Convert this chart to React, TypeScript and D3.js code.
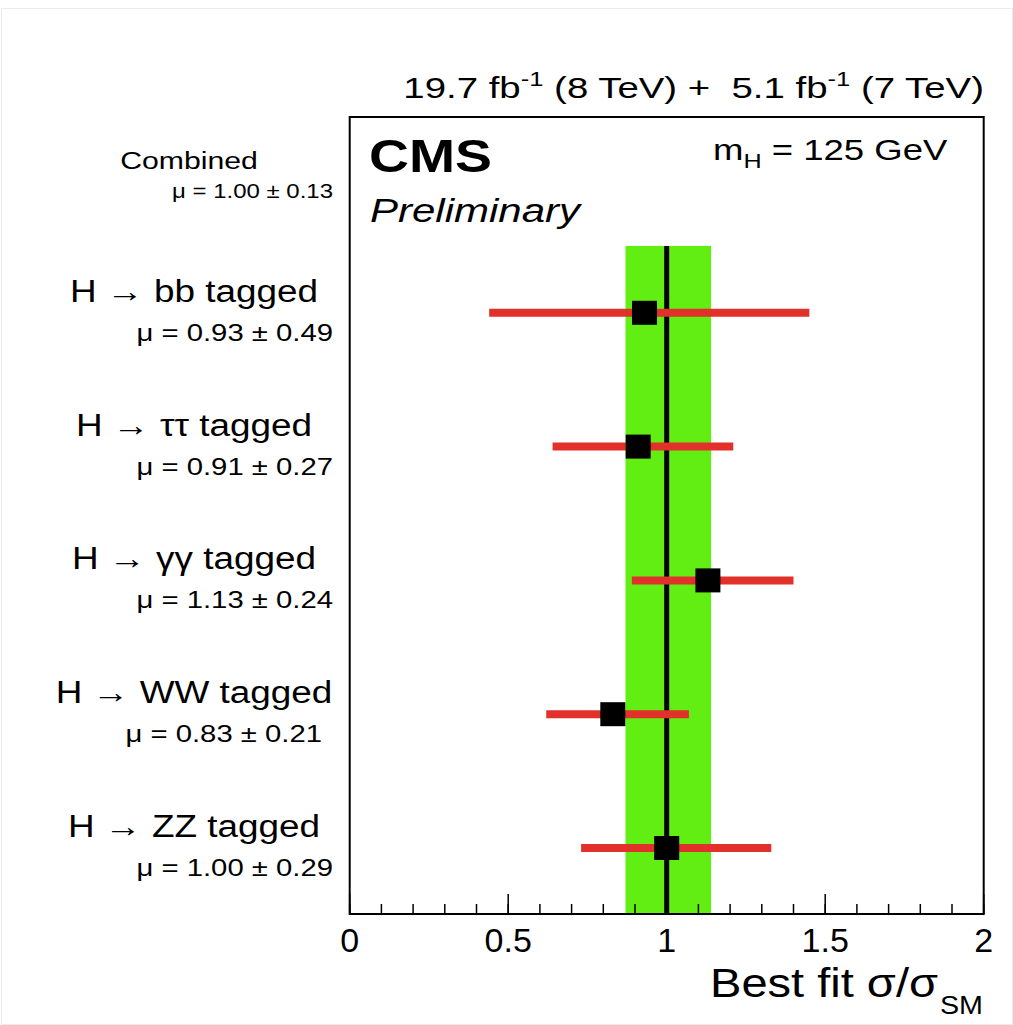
import React from "react";
import * as d3 from "d3";

// ---- data ----
const categories = [
  "Combined",
  "H \u2192 bb tagged",
  "H \u2192 \u03c4\u03c4 tagged",
  "H \u2192 \u03b3\u03b3 tagged",
  "H \u2192 WW tagged",
  "H \u2192 ZZ tagged",
];
const muValues = [1.0, 0.93, 0.91, 1.13, 0.83, 1.0];
const muErrors = [0.13, 0.49, 0.27, 0.24, 0.21, 0.29];
const lowerBounds = [0.87, 0.44, 0.64, 0.89, 0.62, 0.73];
const upperBounds = [1.14, 1.45, 1.21, 1.4, 1.07, 1.33];
const xTicks = [0, 0.5, 1, 1.5, 2];
const xMinorTicks = d3.range(0, 2.0001, 0.1);

const W = 1013;
const H = 1025;
const FONT = "'Liberation Sans', Arial, Helvetica, sans-serif";

function SText(props: {
  x: number;
  y: number;
  s: number;
  size: number;
  anchor?: string;
  children: React.ReactNode;
}) {
  return (
    <g transform={`translate(${props.x},${props.y}) scale(${props.s},1)`}>
      <text x={0} y={0} fontSize={props.size} textAnchor={props.anchor || "start"} fill="#000">
        {props.children}
      </text>
    </g>
  );
}

export default function App() {
  const x = d3.scaleLinear().domain([0, 2]).range([349.7, 983.7]);
  const y = d3.scaleLinear().domain([0, 5]).range([179, 848]);
  const frameTop = 117;
  const frameBottom = 914;
  const bandTop = y(0.5);
  const fmt = d3.format(".2f");
  const red = "#e2302a";
  const green = "#62ee12";

  return (
    <svg
      width={W}
      height={H}
      style={{ position: "absolute", left: 0, top: 0, background: "#fff" }}
      fontFamily={FONT}
    >
      <rect x={0} y={0} width={W} height={H} fill="#fff" />
      <rect x={1.5} y={8.5} width={1011} height={1016} fill="none" stroke="#ebebeb" strokeWidth={1} />

      {/* combined band */}
      <rect
        x={x(lowerBounds[0])}
        y={bandTop}
        width={x(upperBounds[0]) - x(lowerBounds[0])}
        height={frameBottom - bandTop}
        fill={green}
      />
      <line x1={x(muValues[0])} x2={x(muValues[0])} y1={bandTop} y2={frameBottom} stroke="#000" strokeWidth={5} />

      {/* error bars and points */}
      {categories.map((c, i) =>
        i === 0 ? null : (
          <g key={c}>
            <line
              x1={x(lowerBounds[i])}
              x2={x(upperBounds[i])}
              y1={y(i)}
              y2={y(i)}
              stroke={red}
              strokeWidth={8}
            />
            <rect x={x(muValues[i]) - 12.5} y={y(i) - 12} width={25} height={24} fill="#000" />
          </g>
        )
      )}

      {/* frame */}
      <rect
        x={x(0)}
        y={frameTop}
        width={x(2) - x(0)}
        height={frameBottom - frameTop}
        fill="none"
        stroke="#000"
        strokeWidth={2}
      />

      {/* ticks */}
      {xMinorTicks.map((t, i) => (
        <line key={"m" + i} x1={x(t)} x2={x(t)} y1={frameBottom} y2={frameBottom - 10} stroke="#000" strokeWidth={1.5} />
      ))}
      {xTicks.map((t) => (
        <line key={"M" + t} x1={x(t)} x2={x(t)} y1={frameBottom} y2={frameBottom - 20} stroke="#000" strokeWidth={1.5} />
      ))}
      {xTicks.map((t) => (
        <text key={"L" + t} x={x(t)} y={952} fontSize={34} textAnchor="middle" fill="#000">
          {String(t)}
        </text>
      ))}

      {/* axis title */}
      <text x={710} y={997} fontSize={41} fill="#000" textLength={228} lengthAdjust="spacingAndGlyphs">
        Best fit σ/σ
      </text>
      <text x={940} y={1014} fontSize={25} fill="#000" textLength={43} lengthAdjust="spacingAndGlyphs">
        SM
      </text>

      {/* top lumi text */}
      <SText x={984} y={98} s={1.28} size={30} anchor="end">
        19.7 fb<tspan fontSize={20} dy={-12}>-1</tspan>
        <tspan dy={12}>{" (8 TeV) +\u00a0 5.1 fb"}</tspan>
        <tspan fontSize={20} dy={-12}>-1</tspan>
        <tspan dy={12}> (7 TeV)</tspan>
      </SText>

      {/* CMS */}
      <text x={369} y={172} fontSize={46} fontWeight="bold" fill="#000" textLength={123} lengthAdjust="spacingAndGlyphs">
        CMS
      </text>
      <text x={370} y={222} fontSize={34} fontStyle="italic" fill="#000" textLength={210} lengthAdjust="spacingAndGlyphs">
        Preliminary
      </text>
      <SText x={713} y={160} s={1.26} size={29}>
        m<tspan fontSize={20} dy={8}>H</tspan>
        <tspan dy={-8}> = 125 GeV</tspan>
      </SText>

      {/* labels */}
      {categories.map((c, i) =>
        i === 0 ? (
          <g key={"lab" + i}>
            <SText x={189} y={y(i) - 10} s={1.26} size={24} anchor="middle">
              {c}
            </SText>
            <SText x={333} y={y(i) + 19} s={1.2} size={20} anchor="end">
              {"\u03bc = " + fmt(muValues[i]) + " \u00b1 " + fmt(muErrors[i])}
            </SText>
          </g>
        ) : (
          <g key={"lab" + i}>
            <SText x={194} y={y(i) - 11} s={1.19} size={31} anchor="middle">
              {c}
            </SText>
            <SText x={i === 4 ? 322 : 333} y={y(i) + 28} s={1.22} size={24} anchor="end">
              {"\u03bc = " + fmt(muValues[i]) + " \u00b1 " + fmt(muErrors[i])}
            </SText>
          </g>
        )
      )}
    </svg>
  );
}
